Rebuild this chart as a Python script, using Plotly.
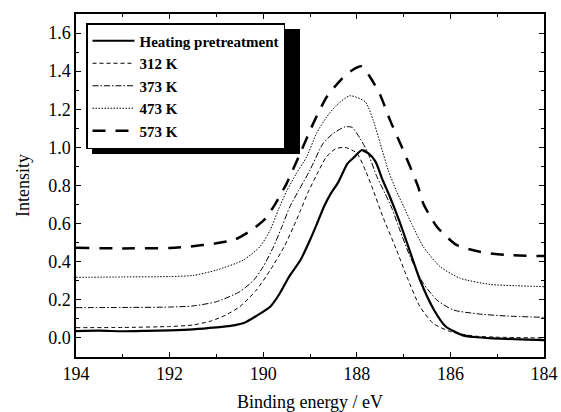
import plotly.graph_objects as go

# ---- data ----
heat_E = [194, 193.5, 193, 192.5, 192, 191.5, 191, 190.7, 190.4, 190.15, 189.85, 189.65, 189.45,
          189.2, 189.0, 188.85, 188.7, 188.55, 188.4, 188.2, 188.05, 187.9, 187.75, 187.6, 187.45,
          187.3, 187.1, 186.85, 186.65, 186.35, 186.1, 185.75, 185.5, 185.1, 184.5, 184.0]
heat_I = [0.036, 0.038, 0.035, 0.037, 0.04, 0.045, 0.055, 0.063, 0.08, 0.115, 0.164, 0.232, 0.32,
          0.41, 0.514, 0.60, 0.69, 0.76, 0.815, 0.915, 0.95, 0.985, 0.968, 0.925, 0.83,
          0.745, 0.619, 0.444, 0.304, 0.147, 0.06, 0.015, 0.005, -0.002, -0.008, -0.011]

k312_E = [194, 193, 192, 191.5, 191.1, 190.8, 190.5, 190.15, 189.85, 189.55, 189.35, 189.2, 189.05,
          188.85, 188.65, 188.45, 188.25, 188.0, 187.8, 187.65, 187.45, 187.15, 186.93, 186.65,
          186.37, 186.0, 185.5, 185.0, 184.0]
k312_I = [0.054, 0.055, 0.06, 0.068, 0.09, 0.12, 0.164, 0.25, 0.356, 0.48, 0.585, 0.67, 0.76,
          0.86, 0.95, 0.993, 1.0, 0.97, 0.87, 0.776, 0.64, 0.461, 0.321, 0.164,
          0.077, 0.033, 0.01, 0.004, 0.0]

k373_E = [194, 193, 192, 191.5, 191.0, 190.5, 190.2, 190.0, 189.78, 189.6, 189.43, 189.25, 189.0,
          188.72, 188.5, 188.25, 188.1, 187.93, 187.77, 187.57, 187.4, 187.25, 187.08, 186.86,
          186.58, 186.29, 185.94, 185.4, 184.8, 184.0]
k373_I = [0.159, 0.16, 0.162, 0.168, 0.19, 0.243, 0.304, 0.374, 0.479, 0.584, 0.689, 0.77, 0.881,
          1.021, 1.074, 1.108, 1.105, 1.047, 0.975, 0.846, 0.76, 0.68, 0.566, 0.426,
          0.287, 0.199, 0.147, 0.126, 0.115, 0.108]

k473_E = [194, 193, 192, 191.5, 191.0, 190.42, 190.07, 189.85, 189.68, 189.5, 189.3, 189.07, 188.86,
          188.64, 188.43, 188.15, 187.82, 187.65, 187.5, 187.33, 187.15, 187.0, 186.83, 186.58,
          186.22, 185.79, 185.15, 184.6, 184.0]
k473_I = [0.318, 0.32, 0.322, 0.328, 0.356, 0.409, 0.479, 0.566, 0.671, 0.77, 0.86, 0.951, 1.074,
          1.161, 1.222, 1.271, 1.24, 1.143, 1.021, 0.881, 0.77, 0.69, 0.60, 0.479,
          0.374, 0.313, 0.281, 0.274, 0.269]

k573_E = [194, 193, 192, 191.6, 191.0, 190.6, 190.25, 189.96, 189.75, 189.5, 189.21, 188.93, 188.64,
          188.32, 188.1, 187.9, 187.72, 187.5, 187.29, 187.04, 186.86, 186.69, 186.58, 186.29,
          185.87, 185.37, 184.8, 184.0]
k573_I = [0.473, 0.47, 0.472, 0.479, 0.497, 0.517, 0.566, 0.625, 0.70, 0.81, 0.969, 1.126, 1.266,
          1.36, 1.405, 1.425, 1.371, 1.275, 1.143, 1.003, 0.898, 0.794, 0.706, 0.584,
          0.488, 0.452, 0.435, 0.43]

names = ["Heating pretreatment", "312 K", "373 K", "473 K", "573 K"]

FONT = "Liberation Serif, Times New Roman, serif"

fig = go.Figure()
series = [
    (heat_E, heat_I, names[0], dict(color="black", width=2.2, dash="solid")),
    (k312_E, k312_I, names[1], dict(color="black", width=1, dash="4px,3px")),
    (k373_E, k373_I, names[2], dict(color="black", width=1, dash="6px,2px,1.5px,2px")),
    (k473_E, k473_I, names[3], dict(color="black", width=1, dash="1.5px,1.5px")),
    (k573_E, k573_I, names[4], dict(color="black", width=2.5, dash="13px,10px")),
]
for x, y, n, ln in series:
    fig.add_trace(go.Scatter(x=x, y=y, name=n, mode="lines", line=ln, line_shape="spline",
                             line_smoothing=0.6))

axis_common = dict(
    showline=True, linecolor="black", linewidth=1.5, mirror="ticks",
    ticks="inside", ticklen=5, tickwidth=1.2, tickcolor="black",
    showgrid=False, zeroline=False, automargin=False,
    tickfont=dict(family=FONT, size=18, color="black"),
)

fig.update_xaxes(
    range=[194, 184], dtick=2, tick0=184,
    minor=dict(dtick=1, ticks="inside", ticklen=3, tickcolor="black", showgrid=False),
    title=dict(text="Binding energy / eV", font=dict(family=FONT, size=18, color="black"), standoff=18),
    **axis_common,
)
fig.update_yaxes(
    range=[-0.1, 1.7], dtick=0.2, tick0=0, tickformat=".1f",
    minor=dict(dtick=0.1, ticks="inside", ticklen=3, tickcolor="black", showgrid=False),
    title=dict(text="Intensity", font=dict(family=FONT, size=18, color="black"), standoff=14),
    **axis_common,
)

L, R, T, B = 76, 17, 14, 55
W, H = 561, 412
pw, ph = W - L - R, H - T - B

def px2paper(px, py):
    return (px - L) / pw, (H - B - py) / ph

lx, ly = px2paper(86, 23)
# shadow behind legend, offset ~6 px right/down
sx0, sy0 = px2paper(92, 154)
sx1, sy1 = px2paper(300, 29)
fig.add_shape(type="rect", xref="paper", yref="paper", x0=sx0, y0=sy0, x1=sx1, y1=sy1,
              fillcolor="black", line=dict(width=0), layer="above")

fig.update_layout(
    width=W, height=H,
    margin=dict(l=L, r=R, t=T, b=B),
    paper_bgcolor="white", plot_bgcolor="white",
    showlegend=True,
    legend=dict(x=lx, y=ly, xanchor="left", yanchor="top",
                bgcolor="white", bordercolor="black", borderwidth=1.5,
                font=dict(family=FONT, size=15, color="black", weight="bold"),
                itemwidth=42, tracegroupgap=0),
)

fig.write_html("out.html")
